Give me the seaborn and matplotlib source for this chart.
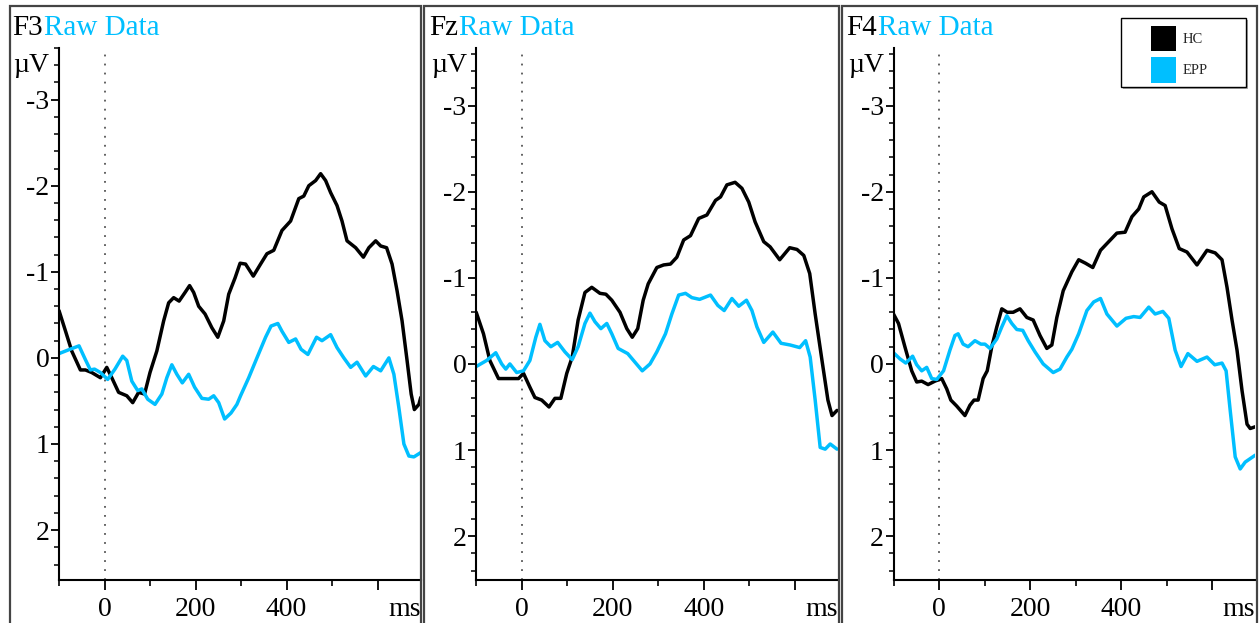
import matplotlib
matplotlib.use("Agg")
import matplotlib.pyplot as plt
import numpy as np
import pandas as pd
import seaborn as sns
from matplotlib.patches import Rectangle, Patch
from matplotlib.ticker import MultipleLocator, FixedLocator

# ---------------- data ----------------
CHANNELS = ["F3", "Fz", "F4"]
GROUPS = ["HC", "EPP"]
COLORS = {"HC": "#000000", "EPP": "#00BFFF"}
TITLE_SUFFIX = "Raw Data"
X_MAJOR = [0, 200, 400, 600]
X_MAJOR_LABELS = ["0", "200", "400", ""]
X_MINOR = [-100, 100, 300, 500]
Y_MAJOR = [-3, -2, -1, 0, 1, 2]

F3_HC_T = [-100, -85, -72, -53, -42, -28, -9, 5, 16, 31, 49, 62, 75, 88, 100, 115, 130, 141, 152, 164,
           177, 187, 196, 207, 221, 236, 249, 262, 273, 287, 298, 310, 327, 343, 357, 372, 390, 409, 427, 438,
           449, 464, 475, 486, 497, 511, 522, 533, 552, 569, 581, 596, 607, 620, 632, 643, 654, 665, 674, 681,
           691, 695]
F3_HC_V = [-0.55, -0.30, -0.08, 0.14, 0.14, 0.17, 0.23, 0.11, 0.23, 0.40, 0.44, 0.52, 0.40, 0.42, 0.17,
           -0.08, -0.43, -0.64, -0.70, -0.66, -0.76, -0.84, -0.76, -0.60, -0.51, -0.35, -0.24, -0.43, -0.74,
           -0.93, -1.10, -1.09, -0.95, -1.09, -1.21, -1.25, -1.48, -1.59, -1.85, -1.88, -2.00, -2.06, -2.14,
           -2.06, -1.92, -1.77, -1.59, -1.36, -1.28, -1.17, -1.28, -1.36, -1.30, -1.28, -1.09, -0.78, -0.43,
           0.03, 0.42, 0.60, 0.54, 0.46]

F3_EPP_T = [-100, -76, -56, -42, -31, -22, -9, 7, 23, 40, 49, 60, 73, 82, 95, 111, 126, 137, 148, 159,
            171, 185, 198, 214, 229, 240, 251, 264, 278, 291, 299, 317, 335, 354, 366, 381, 390, 405, 420, 432,
            447, 466, 478, 497, 511, 526, 541, 555, 574, 591, 607, 625, 636, 647, 658, 669, 680, 695]
F3_EPP_V = [-0.05, -0.10, -0.14, 0.02, 0.14, 0.13, 0.17, 0.25, 0.13, -0.02, 0.03, 0.27, 0.38, 0.36, 0.48,
            0.54, 0.42, 0.23, 0.08, 0.19, 0.29, 0.19, 0.34, 0.47, 0.48, 0.44, 0.52, 0.71, 0.64, 0.54, 0.44,
            0.23, 0.00, -0.24, -0.37, -0.40, -0.31, -0.18, -0.22, -0.10, -0.04, -0.24, -0.20, -0.27, -0.12,
            0.00, 0.11, 0.05, 0.21, 0.10, 0.15, 0.00, 0.19, 0.58, 1.00, 1.14, 1.15, 1.10]

FZ_HC_T = [-100, -84, -70, -51, -37, -22, -7, 4, 18, 29, 44, 60, 73, 86, 99, 111, 124, 139, 154, 172,
           185, 198, 216, 231, 243, 255, 267, 278, 297, 312, 327, 341, 356, 371, 389, 407, 426, 437, 451, 469,
           484, 499, 513, 532, 546, 567, 589, 605, 620, 633, 645, 660, 673, 682, 693]
FZ_HC_V = [-0.60, -0.35, -0.04, 0.17, 0.17, 0.17, 0.17, 0.11, 0.27, 0.39, 0.42, 0.50, 0.40, 0.40, 0.11,
           -0.08, -0.51, -0.83, -0.89, -0.82, -0.81, -0.74, -0.60, -0.41, -0.31, -0.41, -0.74, -0.93, -1.12,
           -1.15, -1.16, -1.24, -1.44, -1.49, -1.69, -1.73, -1.90, -1.94, -2.08, -2.11, -2.04, -1.88, -1.65,
           -1.42, -1.36, -1.21, -1.35, -1.33, -1.26, -1.05, -0.58, -0.04, 0.42, 0.60, 0.54]

FZ_EPP_T = [-100, -77, -57, -44, -35, -26, -11, 4, 18, 31, 40, 51, 64, 79, 95, 111, 124, 139, 150, 161,
            174, 187, 198, 212, 233, 249, 265, 282, 297, 316, 330, 345, 360, 374, 391, 415, 431, 445, 462, 477,
            494, 506, 517, 532, 552, 570, 590, 611, 624, 634, 645, 656, 667, 678, 693]
FZ_EPP_V = [0.03, -0.04, -0.13, 0.00, 0.06, 0.00, 0.10, 0.08, -0.04, -0.31, -0.46, -0.27, -0.20, -0.25,
            -0.14, -0.05, -0.20, -0.47, -0.59, -0.49, -0.41, -0.47, -0.35, -0.18, -0.12, -0.02, 0.08, 0.00,
            -0.14, -0.35, -0.58, -0.80, -0.82, -0.77, -0.75, -0.80, -0.68, -0.62, -0.76, -0.67, -0.74, -0.62,
            -0.43, -0.25, -0.37, -0.24, -0.22, -0.19, -0.27, -0.08, 0.42, 0.97, 0.99, 0.93, 0.99]

F4_HC_T = [-100, -89, -75, -60, -49, -38, -24, -9, 6, 17, 26, 39, 57, 68, 77, 86, 97, 106, 116, 127,
           138, 150, 163, 178, 193, 207, 222, 237, 248, 259, 273, 292, 307, 322, 338, 355, 373, 391, 409, 424,
           439, 450, 468, 484, 497, 512, 528, 545, 567, 589, 607, 622, 633, 644, 655, 666, 677, 684, 695]
F4_HC_V = [-0.58, -0.47, -0.20, 0.08, 0.21, 0.20, 0.24, 0.20, 0.17, 0.29, 0.42, 0.49, 0.60, 0.48, 0.42,
           0.42, 0.17, 0.08, -0.20, -0.43, -0.64, -0.60, -0.60, -0.64, -0.54, -0.51, -0.33, -0.18, -0.22,
           -0.54, -0.85, -1.07, -1.21, -1.17, -1.12, -1.32, -1.42, -1.52, -1.53, -1.71, -1.80, -1.94, -2.00,
           -1.88, -1.84, -1.57, -1.34, -1.30, -1.15, -1.32, -1.29, -1.21, -0.89, -0.51, -0.16, 0.31, 0.70,
           0.75, 0.73]

F4_EPP_T = [-100, -86, -73, -58, -49, -38, -27, -16, -5, 10, 24, 35, 42, 53, 64, 79, 92, 101, 112, 127,
            138, 149, 160, 171, 184, 196, 211, 229, 251, 266, 281, 292, 307, 325, 340, 355, 369, 391, 411, 428,
            442, 461, 475, 492, 505, 519, 532, 547, 567, 589, 606, 622, 631, 640, 651, 662, 673, 695]
F4_EPP_V = [-0.13, -0.06, -0.01, -0.09, 0.01, 0.08, 0.04, 0.17, 0.18, 0.08, -0.16, -0.33, -0.35, -0.23,
            -0.20, -0.27, -0.23, -0.23, -0.18, -0.29, -0.43, -0.56, -0.47, -0.40, -0.39, -0.27, -0.14, 0.00,
            0.10, 0.06, -0.08, -0.17, -0.35, -0.62, -0.72, -0.76, -0.58, -0.44, -0.53, -0.55, -0.54, -0.66,
            -0.58, -0.61, -0.53, -0.16, 0.03, -0.12, -0.03, -0.08, 0.01, -0.01, 0.08, 0.54, 1.08, 1.22, 1.14,
            1.06]

SERIES = {
    "F3": {"HC": (F3_HC_T, F3_HC_V), "EPP": (F3_EPP_T, F3_EPP_V)},
    "Fz": {"HC": (FZ_HC_T, FZ_HC_V), "EPP": (FZ_EPP_T, FZ_EPP_V)},
    "F4": {"HC": (F4_HC_T, F4_HC_V), "EPP": (F4_EPP_T, F4_EPP_V)},
}

# ---------------- style ----------------
sns.set_theme(style="ticks")
plt.rcParams["font.family"] = ["Liberation Serif", "DejaVu Serif"]
plt.rcParams["axes.unicode_minus"] = False

W, H = 1260, 623
fig = plt.figure(figsize=(W / 100, H / 100), dpi=100, facecolor="white")

XLIM = (-100, 695)
PX_PER_MS = 0.455
AX_W = (XLIM[1] - XLIM[0]) * PX_PER_MS
AX_TOP, AX_BOT = 48, 580
AX_LEFT = [59, 476.2, 893.5]
YLIMS = [(2.58, -3.60), (2.51, -3.67), (2.51, -3.67)]
FRAMES = [(10, 421), (424, 839), (842, 1257)]
TITLE_X = [12, 429, 846]
MU_X = [13, 431, 848]

for i, ch in enumerate(CHANNELS):
    ax = fig.add_axes([AX_LEFT[i] / W, (H - AX_BOT) / H, AX_W / W, (AX_BOT - AX_TOP) / H])
    ax.set_facecolor("none")
    rows = []
    for g in GROUPS:
        t, v = SERIES[ch][g]
        assert len(t) == len(v)
        rows.append(pd.DataFrame({"t": t, "v": v, "group": g}))
    df = pd.concat(rows, ignore_index=True)
    sns.lineplot(data=df, x="t", y="v", hue="group", hue_order=GROUPS, palette=COLORS,
                 estimator=None, sort=False, linewidth=2.5, legend=False, ax=ax,
                 solid_joinstyle="round", solid_capstyle="round")
    ax.axvline(0, color="#555555", linestyle=(0, (1, 4)), linewidth=1.3, zorder=0)
    ax.set_xlim(*XLIM)
    ax.set_ylim(*YLIMS[i])
    ax.set_xlabel("")
    ax.set_ylabel("")
    for s in ("top", "right"):
        ax.spines[s].set_visible(False)
    for s in ("left", "bottom"):
        ax.spines[s].set_color("black")
        ax.spines[s].set_linewidth(1.5)
    ax.xaxis.set_major_locator(FixedLocator(X_MAJOR))
    ax.set_xticklabels(X_MAJOR_LABELS)
    ax.xaxis.set_minor_locator(FixedLocator(X_MINOR))
    ax.yaxis.set_major_locator(FixedLocator(Y_MAJOR))
    ax.set_yticklabels([str(y) for y in Y_MAJOR])
    ax.yaxis.set_minor_locator(MultipleLocator(0.2))
    ax.tick_params(axis="x", which="major", direction="out", length=7, width=1.3,
                   labelsize=20, pad=5, color="black", labelcolor="black")
    ax.tick_params(axis="x", which="minor", direction="out", length=4.5, width=1.2, color="black")
    ax.tick_params(axis="y", which="major", direction="out", length=6, width=1.3,
                   labelsize=20, pad=1, color="black", labelcolor="black")
    ax.tick_params(axis="y", which="minor", direction="out", length=3.5, width=1.1, color="black")
    ax.grid(False)
    ax.annotate("ms", xy=(1, 0), xycoords="axes fraction", xytext=(0, -12),
                textcoords="offset points", ha="right", va="top", fontsize=20, color="black")

    # panel titles
    t1 = fig.text(TITLE_X[i] / W, 1 - 35 / H, ch, fontsize=21, color="black",
                  ha="left", va="baseline")
    ax.annotate(TITLE_SUFFIX, xy=(1, 0), xycoords=t1, xytext=(1, 0), textcoords="offset points",
                ha="left", va="bottom", fontsize=21, color=COLORS["EPP"], annotation_clip=False)
    fig.text(MU_X[i] / W, 1 - 72 / H, "\u00b5V", fontsize=20, color="black",
             ha="left", va="baseline")

    # panel frame
    x0, x1 = FRAMES[i]
    fig.patches.append(Rectangle((x0 / W, -0.1), (x1 - x0) / W, 1.1 - 6 / H, fill=False,
                                 edgecolor="#444444", linewidth=1.6, transform=fig.transFigure,
                                 figure=fig, zorder=5))

# legend box with shadow
LX0, LY0, LX1, LY1 = 1121, 18, 1246, 87
fig.patches.append(Rectangle(((LX0 + 2) / W, (H - LY1 - 2) / H), (LX1 - LX0) / W, (LY1 - LY0) / H,
                             facecolor="#aaaaaa", edgecolor="none", transform=fig.transFigure,
                             figure=fig, zorder=6))
fig.patches.append(Rectangle((LX0 / W, (H - LY1) / H), (LX1 - LX0) / W, (LY1 - LY0) / H,
                             facecolor="white", edgecolor="black", linewidth=1.0,
                             transform=fig.transFigure, figure=fig, zorder=7))
handles = [Patch(facecolor=COLORS[g], edgecolor="none") for g in GROUPS]
leg = fig.legend(handles, GROUPS, loc="upper left", bbox_to_anchor=(1151 / W, 1 - 26 / H),
                 frameon=False, fontsize=10.5, handlelength=1.72, handleheight=2.3,
                 handletextpad=0.45, labelspacing=0.4, borderpad=0, borderaxespad=0)
leg.set_zorder(8)

fig.savefig("out.png", dpi=100, facecolor="white")
